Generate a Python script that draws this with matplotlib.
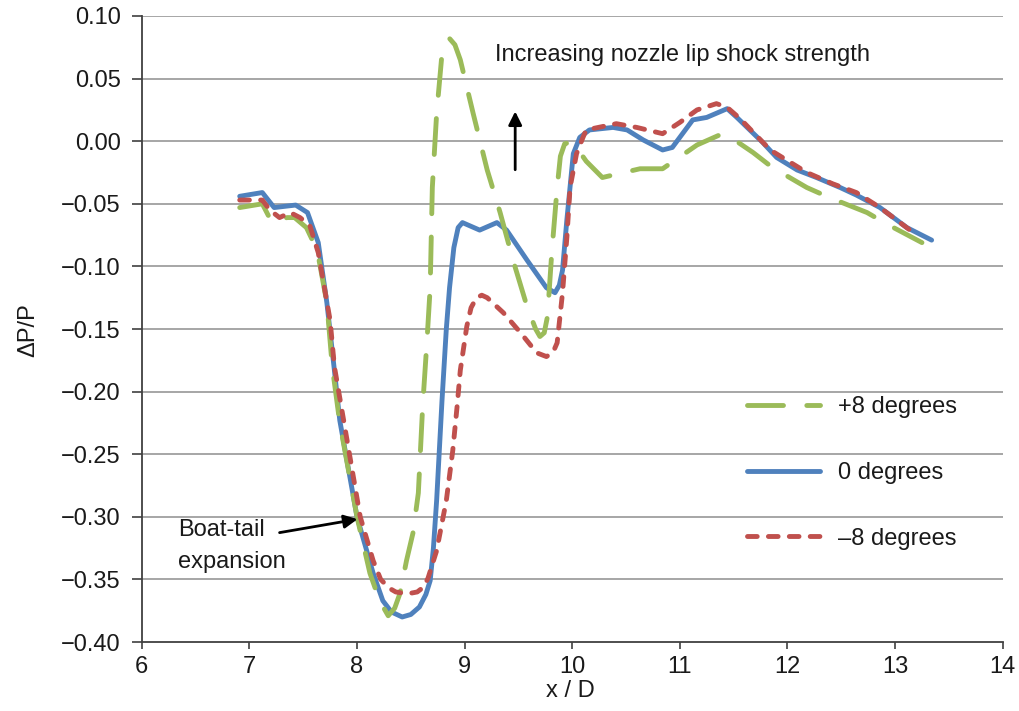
import matplotlib
matplotlib.use("Agg")
import matplotlib.pyplot as plt

plt.rcParams['font.family'] = ['Liberation Sans', 'DejaVu Sans']

# +8 degrees
x_p8 = [6.91, 7.12, 7.21, 7.35, 7.42, 7.53, 7.63, 7.72, 7.77, 7.84, 8.00, 8.12, 8.21, 8.29,
        8.35, 8.40, 8.46, 8.52, 8.57, 8.61, 8.65, 8.68, 8.70, 8.74, 8.79, 8.83, 8.86, 8.91,
        8.96, 9.08, 9.21, 9.33, 9.45, 9.58, 9.66, 9.70, 9.74, 9.77, 9.81, 9.86, 9.89, 9.93,
        9.98, 10.04, 10.13, 10.28, 10.63, 10.84, 11.16, 11.37, 11.44, 11.68, 11.86, 12.18,
        12.39, 12.74, 12.92, 13.25]
y_p8 = [-0.053, -0.050, -0.065, -0.061, -0.061, -0.069, -0.087, -0.129, -0.180, -0.225,
        -0.300, -0.345, -0.367, -0.379, -0.373, -0.361, -0.335, -0.313, -0.281, -0.212,
        -0.160, -0.117, -0.037, 0.022, 0.070, 0.079, 0.082, 0.077, 0.065, 0.022, -0.023,
        -0.057, -0.095, -0.132, -0.150, -0.156, -0.153, -0.140, -0.089, -0.037, -0.012,
        -0.002, -0.001, -0.005, -0.016, -0.029, -0.022, -0.022, -0.003, 0.005, 0.005,
        -0.009, -0.021, -0.037, -0.045, -0.057, -0.066, -0.081]

# 0 degrees
x_0 = [6.91, 7.12, 7.23, 7.43, 7.54, 7.64, 7.72, 7.79, 7.84, 8.00, 8.15, 8.24, 8.32, 8.42,
       8.50, 8.58, 8.64, 8.68, 8.71, 8.74, 8.79, 8.83, 8.86, 8.90, 8.94, 8.98, 9.14, 9.30,
       9.39, 9.58, 9.76, 9.84, 9.88, 9.91, 9.95, 10.01, 10.07, 10.16, 10.38, 10.51, 10.66,
       10.84, 10.93, 11.12, 11.25, 11.44, 11.53, 11.77, 11.90, 12.09, 12.27, 12.49, 12.64,
       12.86, 13.11, 13.34]
y_0 = [-0.044, -0.041, -0.053, -0.051, -0.057, -0.081, -0.129, -0.183, -0.223, -0.300,
       -0.345, -0.367, -0.376, -0.380, -0.378, -0.372, -0.362, -0.351, -0.325, -0.287,
       -0.207, -0.150, -0.117, -0.085, -0.069, -0.065, -0.071, -0.065, -0.071, -0.095,
       -0.117, -0.121, -0.115, -0.103, -0.063, -0.010, 0.003, 0.009, 0.011, 0.009, 0.001,
       -0.007, -0.005, 0.017, 0.019, 0.026, 0.019, -0.001, -0.013, -0.023, -0.029, -0.037,
       -0.043, -0.053, -0.069, -0.079]

# -8 degrees
x_m8 = [6.91, 7.12, 7.19, 7.28, 7.38, 7.47, 7.56, 7.64, 7.75, 7.79, 7.87, 8.03, 8.15, 8.22,
        8.30, 8.36, 8.43, 8.50, 8.56, 8.62, 8.66, 8.70, 8.74, 8.83, 8.89, 8.93, 8.96, 9.02,
        9.06, 9.11, 9.16, 9.21, 9.36, 9.52, 9.67, 9.76, 9.82, 9.86, 9.91, 9.95, 9.98, 10.04,
        10.10, 10.13, 10.41, 10.60, 10.84, 11.00, 11.16, 11.34, 11.44, 11.56, 11.84, 12.18,
        12.42, 12.64, 12.86, 13.17]
y_m8 = [-0.047, -0.047, -0.055, -0.061, -0.057, -0.061, -0.067, -0.089, -0.143, -0.180,
        -0.220, -0.300, -0.335, -0.350, -0.357, -0.360, -0.361, -0.361, -0.360, -0.356,
        -0.349, -0.338, -0.327, -0.287, -0.247, -0.212, -0.183, -0.148, -0.133, -0.125,
        -0.123, -0.125, -0.137, -0.153, -0.169, -0.172, -0.169, -0.161, -0.121, -0.077,
        -0.037, -0.010, 0.003, 0.009, 0.014, 0.011, 0.006, 0.015, 0.025, 0.030, 0.027,
        0.018, -0.007, -0.025, -0.034, -0.041, -0.053, -0.073]

labels = ['+8 degrees', '0 degrees', '\u20138 degrees']
colors = ['#9BBB59', '#4F81BD', '#C0504D']
x_ticks = [6, 7, 8, 9, 10, 11, 12, 13, 14]
y_ticks = [0.10, 0.05, 0.00, -0.05, -0.10, -0.15, -0.20, -0.25, -0.30, -0.35, -0.40]

FS = 17
fig = plt.figure(figsize=(10.2, 7.11), dpi=100)
ax = fig.add_axes([0.139, 0.097, 0.844, 0.8805])

for yt in y_ticks[:-1]:
    ax.axhline(yt, color='#a6a6a6', lw=1.4, zorder=0)

LW = 3.5
ax.plot(x_p8, y_p8, color=colors[0], lw=LW, dash_capstyle='round',
        linestyle=(0, (7.4, 4.8)), label=labels[0], zorder=3)
ax.plot(x_0, y_0, color=colors[1], lw=LW, solid_capstyle='round',
        solid_joinstyle='round', label=labels[1], zorder=2)
ax.plot(x_m8, y_m8, color=colors[2], lw=LW, dash_capstyle='round',
        linestyle=(0, (2.0, 2.3)), label=labels[2], zorder=4)

ax.set_xlim(6, 14)
ax.set_ylim(-0.40, 0.10)
ax.set_xticks(x_ticks)
ax.set_yticks(y_ticks)
ax.set_yticklabels([f'{v:.2f}'.replace('-', '\u2212') for v in y_ticks])
ax.tick_params(axis='both', labelsize=FS, color='#404040', width=1.2,
               labelcolor='#1a1a1a')
ax.tick_params(axis='y', length=7, pad=8)
ax.tick_params(axis='x', length=5, pad=5)
for s in ['top', 'right']:
    ax.spines[s].set_visible(False)
for s in ['left', 'bottom']:
    ax.spines[s].set_color('#404040')
    ax.spines[s].set_linewidth(1.3)

fig.text(570 / 1020, 1 - 691 / 711, 'x / D', fontsize=FS, ha='center', va='center',
         color='#1a1a1a')
fig.text(28 / 1020, 1 - 330 / 711, '\u0394P/P', fontsize=FS, ha='center', va='center',
         rotation=90, color='#1a1a1a')

leg = ax.legend(loc='center left', bbox_to_anchor=(0.678, 0.27), frameon=False,
                fontsize=FS, handlelength=3.1, labelspacing=1.85, handletextpad=0.75)
for t in leg.get_texts():
    t.set_color('#1a1a1a')

ax.text(9.28, 0.069, 'Increasing nozzle lip shock strength', fontsize=FS, va='center',
        ha='left', color='#1a1a1a')
ax.annotate('', xy=(9.47, 0.026), xytext=(9.47, -0.025),
            arrowprops=dict(arrowstyle='-|>', color='black', lw=2.0, mutation_scale=20))
ax.text(6.335, -0.3235, 'Boat-tail\nexpansion', fontsize=FS, va='center', ha='left',
        linespacing=1.6, color='#1a1a1a')
ax.annotate('', xy=(8.03, -0.3015), xytext=(7.255, -0.313),
            arrowprops=dict(arrowstyle='-|>', color='black', lw=2.0, mutation_scale=20))

fig.savefig('out.png', dpi=100, facecolor='white')
